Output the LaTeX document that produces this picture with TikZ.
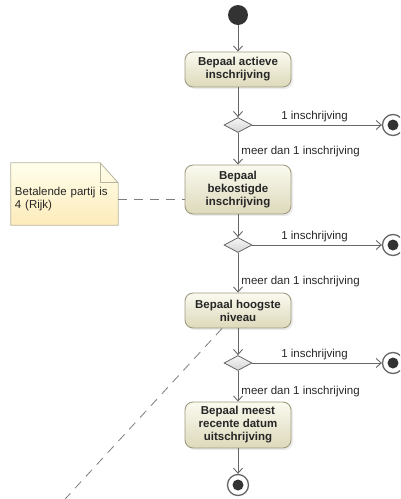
\documentclass[tikz,border=0pt]{standalone}
\usepackage{fontspec}
\setmainfont{Liberation Sans}
\usetikzlibrary{shapes.geometric,arrows.meta,shadows,backgrounds}
\definecolor{flowline}{HTML}{666666}
\definecolor{acttop}{HTML}{FAFAEF}
\definecolor{actbottom}{HTML}{DDD9BB}
\definecolor{actborder}{HTML}{9E9B80}
\definecolor{notetop}{HTML}{FFFFEC}
\definecolor{notebottom}{HTML}{FDEBBA}
\definecolor{noteborder}{HTML}{B8B49E}
\definecolor{dotfill}{HTML}{333333}
\definecolor{diamtop}{HTML}{F6F6F6}
\definecolor{diambottom}{HTML}{D4D4D4}
\begin{document}
\begin{tikzpicture}[x=1pt, y=-1pt,
    every node/.style={font=\fontsize{11.5}{13}\selectfont, text=black!85},
    action/.style={rectangle, rounded corners=8pt, draw=actborder, line width=0.9pt, top color=acttop, bottom color=actbottom,
      minimum width=106pt, minimum height=35pt, inner sep=2pt, align=center, font=\fontsize{11.5}{13}\selectfont\bfseries,
      drop shadow={shadow xshift=2pt, shadow yshift=-2pt, opacity=0.15}},
    initial/.style={circle, fill=dotfill, minimum size=20pt, inner sep=0pt},
    finalnode/.style={circle, draw=flowline, line width=1.3pt, fill=white, minimum size=21pt, inner sep=0pt,
      path picture={\fill[dotfill] (path picture bounding box.center) circle (5.5pt);}},
    decision/.style={diamond, draw=flowline, line width=0.8pt, top color=diamtop, bottom color=diambottom,
      minimum width=28pt, minimum height=15pt, inner sep=0pt},
    flow/.style={draw=flowline, line width=0.9pt, -{Straight Barb[length=5pt, width=9pt]}},
    guard/.style={inner sep=3pt},
    anchorline/.style={draw=flowline!85, line width=0.8pt, dash pattern=on 9pt off 7pt},
    notebox/.style={minimum width=107pt, minimum height=52pt, inner sep=0pt, text width=99pt, align=left}]
  \useasboundingbox (0,0) rectangle (400,499);
  \clip (0,0) rectangle (400,499);

  \node[initial] (init) at (238,15) {};
  \node[action] (act1) at (238,69.5) {Bepaal actieve\\inschrijving};
  \node[decision] (dec1) at (238,125) {};
  \node[finalnode] (end1) at (393,125) {};
  \node[action, minimum height=49pt] (act2) at (238,189.5) {Bepaal\\bekostigde\\inschrijving};
  \node[decision] (dec2) at (238,245) {};
  \node[finalnode] (end2) at (393,245) {};
  \node[action] (act3) at (238,310.5) {Bepaal hoogste\\niveau};
  \node[decision] (dec3) at (238,363) {};
  \node[finalnode] (end3) at (393,363) {};
  \node[action, minimum height=46pt] (act4) at (238,425) {Bepaal meest\\recente datum\\uitschrijving};
  \node[finalnode] (end4) at (238,485) {};

  \node[notebox] (note) at (64.5,199) {Betalende partij is\\4 (Rijk)};
  \begin{scope}[on background layer]
    \shade[draw=noteborder, line width=0.8pt, shading angle=45, top color=notetop, bottom color=notebottom]
      ([yshift=10pt]note.north west) -- ([xshift=-18pt, yshift=10pt]note.north east)
      -- ([yshift=-10pt]note.north east) -- (note.south east) -- (note.south west) -- cycle;
    \draw[noteborder, line width=0.8pt] ([xshift=-18pt, yshift=10pt]note.north east)
      -- ([xshift=-18pt, yshift=-10pt]note.north east) -- ([yshift=-10pt]note.north east);
  \end{scope}
  \coordinate (notecorner) at (55,510);

  \draw[flow] (init) -- (act1);
  \draw[flow] (act1) -- (dec1);
  \draw[flow] (dec1) -- node[guard, above, pos=0.48] {1 inschrijving} (end1);
  \draw[flow] (dec1) -- node[guard, right, pos=0.6] {meer dan 1 inschrijving} (act2);
  \draw[flow] (act2) -- (dec2);
  \draw[flow] (dec2) -- node[guard, above, pos=0.48] {1 inschrijving} (end2);
  \draw[flow] (dec2) -- node[guard, right, pos=0.73] {meer dan 1 inschrijving} (act3);
  \draw[flow] (act3) -- (dec3);
  \draw[flow] (dec3) -- node[guard, above, pos=0.48] {1 inschrijving} (end3);
  \draw[flow] (dec3) -- node[guard, right, pos=0.68] {meer dan 1 inschrijving} (act4);
  \draw[flow] (act4) -- (end4);

  \draw[anchorline] (note.east) -- (note.east -| act2.west);
  \draw[anchorline] ([xshift=-16pt]act3.south) -- (notecorner);
\end{tikzpicture}
\end{document}
